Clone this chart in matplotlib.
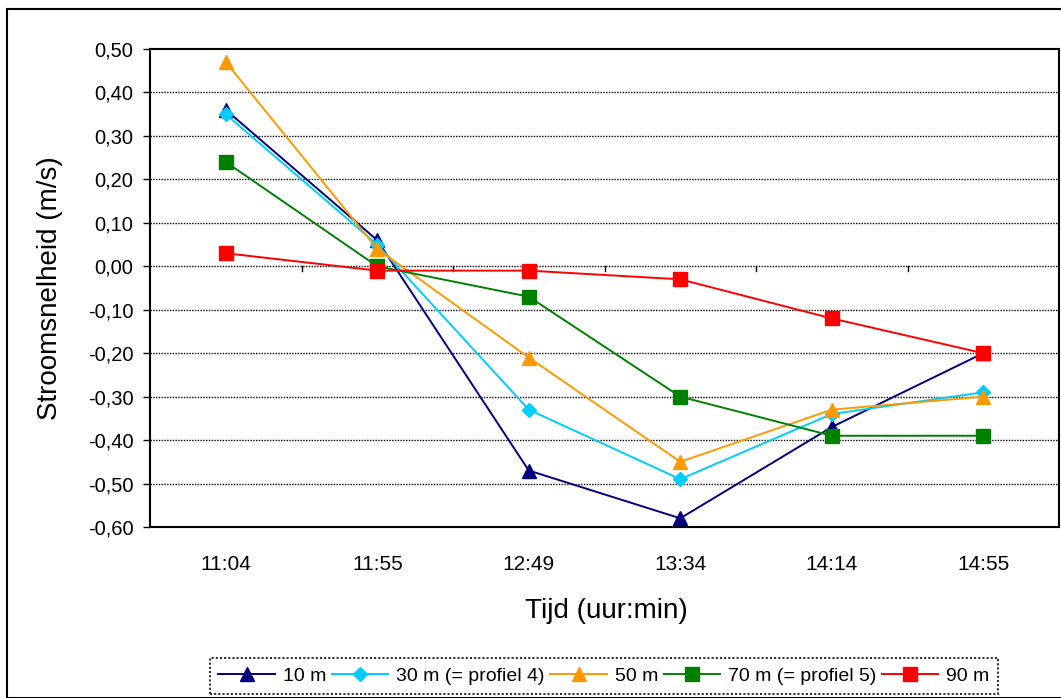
import matplotlib.pyplot as plt
from matplotlib.patches import Rectangle
from matplotlib.ticker import FuncFormatter

plt.rcParams['font.family'] = ['Liberation Sans', 'DejaVu Sans']

tijden = ['11:04', '11:55', '12:49', '13:34', '14:14', '14:55']
namen = ['10 m', '30 m (= profiel 4)', '50 m', '70 m (= profiel 5)', '90 m']
v10 = [0.36, 0.06, -0.47, -0.58, -0.37, -0.20]
v30 = [0.35, 0.05, -0.33, -0.49, -0.34, -0.29]
v50 = [0.47, 0.04, -0.21, -0.45, -0.33, -0.30]
v70 = [0.24, 0.00, -0.07, -0.30, -0.39, -0.39]
v90 = [0.03, -0.01, -0.01, -0.03, -0.12, -0.20]

series = [v10, v30, v50, v70, v90]
kleuren = ['#000080', '#00CCFF', '#FF9900', '#008000', '#FF0000']
markers = ['^', 'D', '^', 's', 's']
msizes = [9.5, 7.5, 9.5, 9.5, 9.5]

fig = plt.figure(figsize=(10.61, 6.98), dpi=100)
fig.patches.append(Rectangle((7 / 1061, 0.0), 1.0, 1 - 9 / 698, transform=fig.transFigure,
                             fill=False, edgecolor='black', linewidth=1.5))

ax = fig.add_axes([150 / 1061, 1 - 527 / 698, 909 / 1061, 478 / 698])
x = list(range(len(tijden)))

handles = []
for vals, naam, c, m, ms in zip(series, namen, kleuren, markers, msizes):
    h, = ax.plot(x, vals, color=c, marker=m, markersize=ms, linewidth=1.4,
                 markeredgecolor=c, label=naam, zorder=3)
    handles.append(h)

ax.set_xlim(-0.5, len(tijden) - 0.5)
ax.set_ylim(-0.6, 0.5)
yt = [round(-0.6 + 0.1 * i, 2) for i in range(12)]
ax.set_yticks(yt)
ax.yaxis.set_major_formatter(FuncFormatter(lambda v, p: f'{v:.2f}'.replace('.', ',').replace('-0,00', '0,00')))
ax.tick_params(axis='y', direction='out', length=5, width=1, labelsize=14.5, pad=7)
for v in yt[1:-1]:
    ax.axhline(v, color='black', linestyle=(0, (1, 1)), linewidth=1, zorder=1)

ax.set_xticks(x)
ax.set_xticklabels(tijden)
ax.tick_params(axis='x', length=0, labelsize=15, pad=20)

# tick marks on the zero line between categories
for b in [i + 0.5 for i in range(len(tijden) - 1)]:
    ax.plot([b, b], [0, -0.012], color='black', linewidth=1, zorder=2)

for s in ax.spines.values():
    s.set_linewidth(1.5)

fig.text(50 / 1061, 1 - 288 / 698, 'Stroomsnelheid (m/s)', rotation=90,
         ha='center', va='center', fontsize=20)
fig.text(606 / 1061, 1 - 611 / 698, 'Tijd (uur:min)', ha='center', va='center', fontsize=20)

leg = fig.legend(handles=handles, loc='center', ncol=5, bbox_to_anchor=(604 / 1061, 1 - 676 / 698),
                 fontsize=14, frameon=True, fancybox=False, handlelength=2.9, handletextpad=0.4,
                 columnspacing=0.3, borderpad=0.45, borderaxespad=0)
fr = leg.get_frame()
fr.set_edgecolor('black')
fr.set_linestyle((0, (1, 1)))
fr.set_linewidth(1.5)

fig.savefig('out.png', dpi=100)
